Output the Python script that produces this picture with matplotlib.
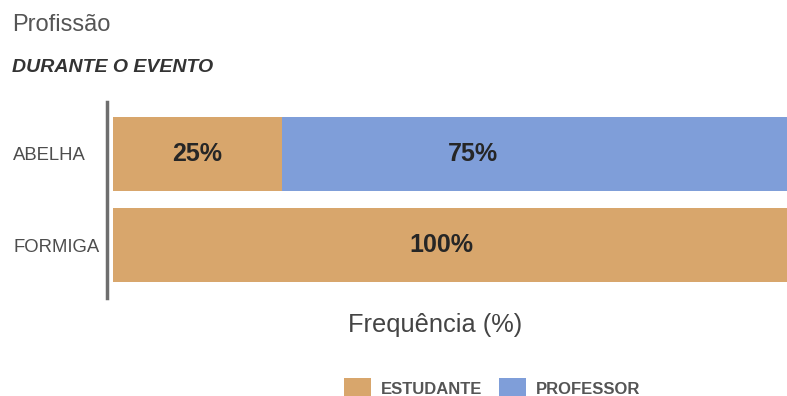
import matplotlib.pyplot as plt
from matplotlib.patches import Patch

plt.rcParams['font.family'] = ['Liberation Sans', 'DejaVu Sans']

groups = ["ABELHA", "FORMIGA"]
series = ["ESTUDANTE", "PROFESSOR"]
estudante = [25, 100]
professor = [75, 0]
# where each percentage label sits along the bar (x, in %)
label_x = {"ESTUDANTE": [12.5, 48.7], "PROFESSOR": [53.4, None]}

colors = {"ESTUDANTE": "#d8a66c", "PROFESSOR": "#7f9ed9"}

fig = plt.figure(figsize=(7.87, 3.96), dpi=100)
ax = fig.add_axes([107 / 787, 1 - 298 / 396, 1 - 107 / 787, 196 / 396])

ypos = list(range(len(groups)))
left = [0] * len(groups)
for name, vals in zip(series, [estudante, professor]):
    ax.barh(ypos, vals, left=left, height=0.81, color=colors[name], linewidth=0)
    for i, v in enumerate(vals):
        if v > 0:
            ax.text(label_x[name][i], ypos[i], f"{v}%", ha="center", va="center",
                    fontsize=18, fontweight="bold", color="#262626")
    left = [a + b for a, b in zip(left, vals)]

ax.set_xlim(-0.9, 100)
ax.set_ylim(1.58, -0.57)
ax.set_yticks(ypos)
ax.set_yticklabels(groups, fontsize=13.3, color="#4d4d4d", ha="left")
ax.tick_params(axis="y", length=0, pad=67.5)
ax.set_xticks([])
for s in ["top", "right", "bottom"]:
    ax.spines[s].set_visible(False)
ax.spines["left"].set_color("#6e6e6e")
ax.spines["left"].set_linewidth(2.5)

fig.text(12 / 787, 1 - 25 / 396, "Profissão", fontsize=17, color="#555555", va="center")
fig.text(12 / 787, 1 - 68 / 396, "DURANTE O EVENTO", fontsize=14, color="#333333",
         fontweight="bold", fontstyle="italic", va="center")
fig.text(435 / 787, 1 - 325 / 396, "Frequência (%)", fontsize=18.3, color="#444444",
         ha="center", va="center")

handles = [Patch(facecolor=colors[n], edgecolor="none") for n in series]
leg = fig.legend(handles, series, loc="center", bbox_to_anchor=(492 / 787, 1 - 389 / 396),
                 ncol=2, frameon=False, fontsize=12, handlelength=1.6, handleheight=1.6,
                 handletextpad=0.6, columnspacing=1.0)
for t in leg.get_texts():
    t.set_color("#555555")
    t.set_fontweight("bold")

fig.savefig("out.png", dpi=100)
